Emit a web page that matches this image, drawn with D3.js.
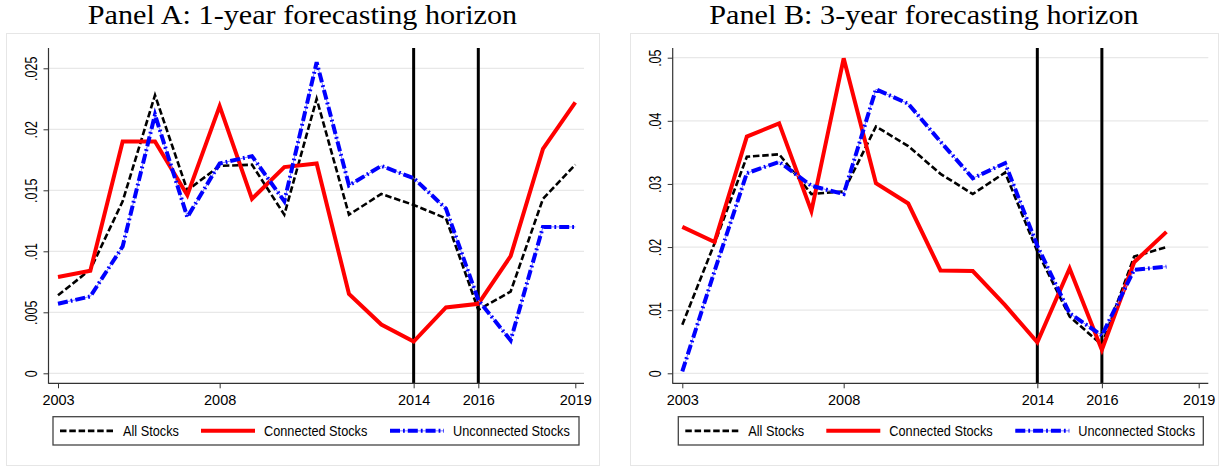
<!DOCTYPE html>
<html>
<head>
<meta charset="utf-8">
<script src="https://cdn.jsdelivr.net/npm/d3@7"></script>
<style>
  html, body { margin: 0; padding: 0; background: #ffffff; }
  svg { display: block; }
</style>
</head>
<body>
<svg id="chart" width="1228" height="468"></svg>
<script>
// ---- data -------------------------------------------------------------
const yearsA = [2003, 2004, 2005, 2006, 2007, 2008, 2009, 2010, 2011,
                2012, 2013, 2014, 2015, 2016, 2017, 2018, 2019];
const yearsB = [2003, 2004, 2005, 2006, 2007, 2008, 2009, 2010, 2011,
                2012, 2013, 2014, 2015, 2016, 2017, 2018];

// Panel A: 1-year forecasting horizon
const allStocksA = [0.0064, 0.0085, 0.0141, 0.0228, 0.0150, 0.0170, 0.0171, 0.0130, 0.0225,
                    0.0130, 0.0147, 0.0138, 0.0127, 0.0052, 0.0067, 0.0143, 0.0171];
const connectedA = [0.0079, 0.0084, 0.0190, 0.0190, 0.0146, 0.0219, 0.0143, 0.0169, 0.0172,
                    0.0065, 0.0040, 0.0026, 0.0054, 0.0057, 0.0096, 0.0184, 0.0222];
const unconnectedA = [0.0057, 0.0063, 0.0104, 0.0212, 0.0128, 0.0172, 0.0178, 0.0141, 0.0255,
                      0.0154, 0.0170, 0.0160, 0.0135, 0.0060, 0.0027, 0.0120, 0.0120];

// Panel B: 3-year forecasting horizon
const allStocksB = [0.0077, 0.0206, 0.0343, 0.0347, 0.0284, 0.0288, 0.0391, 0.0360,
                    0.0316, 0.0284, 0.0318, 0.0193, 0.0090, 0.0045, 0.0185, 0.0200];
const connectedB = [0.0232, 0.0208, 0.0375, 0.0396, 0.0257, 0.0499, 0.0301, 0.0269,
                    0.0163, 0.0162, 0.0108, 0.0049, 0.0166, 0.0037, 0.0176, 0.0224];
const unconnectedB = [0.0003, 0.0162, 0.0317, 0.0335, 0.0297, 0.0284, 0.0450, 0.0427,
                      0.0367, 0.0309, 0.0333, 0.0202, 0.0095, 0.0060, 0.0164, 0.0169];

// ---- axis ticks and labels ---------------------------------------------
const xTicks = [2003, 2008, 2014, 2016, 2019];
const eventYears = [2014, 2016];
const yTicksA = [0, 0.005, 0.01, 0.015, 0.02, 0.025];
const yTickLabelsA = ["0", ".005", ".01", ".015", ".02", ".025"];
const yTicksB = [0, 0.01, 0.02, 0.03, 0.04, 0.05];
const yTickLabelsB = ["0", ".01", ".02", ".03", ".04", ".05"];
const titles = ["Panel A: 1-year forecasting horizon", "Panel B: 3-year forecasting horizon"];
const seriesNames = ["All Stocks", "Connected Stocks", "Unconnected Stocks"];

// ---- styles -----------------------------------------------------------
const styles = [
  { color: "#000000", width: 2.6, dash: "6.5,2.8" },
  { color: "#ff0000", width: 4, dash: null },
  { color: "#0000ff", width: 4, dash: "10,3,1.8,3", thin: "#7f7fff" }
];

const panels = [
  {
    title: titles[0], years: yearsA,
    series: [allStocksA, connectedA, unconnectedA],
    yTicks: yTicksA, yLabels: yTickLabelsA, yTop: 0.025,
    frame: { x0: 6, x1: 599 },
    axisX: 48.5, plotRight: 584, xRange: [58, 575.3], yTopPx: 68.3,
    legend: { x0: 53, x1: 579 }
  },
  {
    title: titles[1], years: yearsB,
    series: [allStocksB, connectedB, unconnectedB],
    yTicks: yTicksB, yLabels: yTickLabelsB, yTop: 0.05,
    frame: { x0: 630, x1: 1218 },
    axisX: 672.7, plotRight: 1208.3, xRange: [682.3, 1198.7], yTopPx: 57.7,
    legend: { x0: 678.3, x1: 1203.3 }
  }
];

const frameTop = 33, frameBottom = 465;
const plotTop = 48, axisY = 383.3, yZeroPx = 373.3;
const legendTop = 416.7, legendBottom = 445;

const svg = d3.select("#chart");
const sansFont = "'Liberation Sans', Arial, Helvetica, sans-serif";
const serifFont = "'Liberation Serif', 'Times New Roman', serif";

panels.forEach(p => {
  const g = svg.append("g");

  // outer graph frame
  g.append("rect")
    .attr("x", p.frame.x0 + 0.5).attr("y", frameTop + 0.5)
    .attr("width", p.frame.x1 - p.frame.x0).attr("height", frameBottom - frameTop)
    .attr("fill", "#ffffff").attr("stroke", "#e6e6e6").attr("stroke-width", 1);

  // title
  g.append("text")
    .attr("transform", `translate(${(p.frame.x0 + p.frame.x1) / 2},23.6) scale(1.14,1)`)
    .attr("text-anchor", "middle")
    .attr("font-family", serifFont).attr("font-size", 26.5)
    .attr("fill", "#000").text(p.title);

  const x = d3.scaleLinear().domain([2003, 2019]).range(p.xRange);
  const y = d3.scaleLinear().domain([0, p.yTop]).range([yZeroPx, p.yTopPx]);

  // horizontal grid lines
  g.append("g").selectAll("line").data(p.yTicks).join("line")
    .attr("x1", p.axisX).attr("x2", p.plotRight)
    .attr("y1", d => y(d)).attr("y2", d => y(d))
    .attr("stroke", "#e8e8e8").attr("stroke-width", 1.2);

  // event lines
  g.append("g").selectAll("line").data(eventYears).join("line")
    .attr("x1", d => x(d)).attr("x2", d => x(d))
    .attr("y1", plotTop).attr("y2", axisY)
    .attr("stroke", "#000").attr("stroke-width", 3);

  // series
  const line = d3.line().x((d, i) => x(p.years[i])).y(d => y(d));
  p.series.forEach((vals, k) => {
    const s = styles[k];
    if (s.thin) {
      g.append("path").datum(vals).attr("d", line)
        .attr("fill", "none").attr("stroke", s.thin).attr("stroke-width", 1);
    }
    g.append("path").datum(vals).attr("d", line)
      .attr("fill", "none").attr("stroke", s.color)
      .attr("stroke-width", s.width)
      .attr("stroke-dasharray", s.dash)
      .attr("stroke-linejoin", "miter").attr("stroke-linecap", "butt");
  });

  // y axis
  const yAxis = d3.axisLeft(y).tickValues(p.yTicks)
    .tickFormat((d, i) => p.yLabels[i]).tickSize(5).tickSizeOuter(0);
  const ya = g.append("g").attr("transform", `translate(${p.axisX},0)`).call(yAxis);
  ya.select(".domain").remove();
  ya.selectAll(".tick line").attr("stroke", "#333").attr("stroke-width", 1);
  ya.selectAll(".tick text")
    .attr("x", null).attr("dy", null)
    .attr("transform", "translate(-11.5,0) rotate(-90) scale(0.78,1)")
    .attr("text-anchor", "middle")
    .attr("font-family", sansFont).attr("font-size", 16).attr("fill", "#000");

  // x axis
  const xAxis = d3.axisBottom(x).tickValues(xTicks)
    .tickFormat(d3.format("d")).tickSize(5).tickPadding(6).tickSizeOuter(0);
  const xa = g.append("g").attr("transform", `translate(0,${axisY})`).call(xAxis);
  xa.select(".domain").remove();
  xa.selectAll(".tick line").attr("stroke", "#333").attr("stroke-width", 1);
  xa.selectAll(".tick text")
    .attr("font-family", sansFont).attr("font-size", 14.5).attr("fill", "#000");

  // axis lines
  g.append("line").attr("x1", p.axisX).attr("x2", p.axisX)
    .attr("y1", plotTop).attr("y2", axisY + 0.5)
    .attr("stroke", "#333").attr("stroke-width", 1.2);
  g.append("line").attr("x1", p.axisX).attr("x2", p.plotRight)
    .attr("y1", axisY).attr("y2", axisY)
    .attr("stroke", "#333").attr("stroke-width", 1.2);

  // legend
  const L = p.legend;
  const lg = g.append("g");
  lg.append("rect")
    .attr("x", L.x0).attr("y", legendTop)
    .attr("width", L.x1 - L.x0).attr("height", legendBottom - legendTop)
    .attr("fill", "#fff").attr("stroke", "#444").attr("stroke-width", 1.3);
  const keyOffsets = [7, 148, 337];
  const ly = (legendTop + legendBottom) / 2;
  seriesNames.forEach((name, k) => {
    const s = styles[k];
    const kx = L.x0 + keyOffsets[k];
    if (s.thin) {
      lg.append("line").attr("x1", kx).attr("x2", kx + 54).attr("y1", ly).attr("y2", ly)
        .attr("stroke", s.thin).attr("stroke-width", 1);
    }
    lg.append("line").attr("x1", kx).attr("x2", kx + 54).attr("y1", ly).attr("y2", ly)
      .attr("stroke", s.color).attr("stroke-width", s.width)
      .attr("stroke-dasharray", s.dash);
    lg.append("text")
      .attr("transform", `translate(${kx + 63},${ly + 5}) scale(0.91,1)`)
      .attr("font-family", sansFont).attr("font-size", 14).attr("fill", "#000")
      .text(name);
  });
});
</script>
</body>
</html>
